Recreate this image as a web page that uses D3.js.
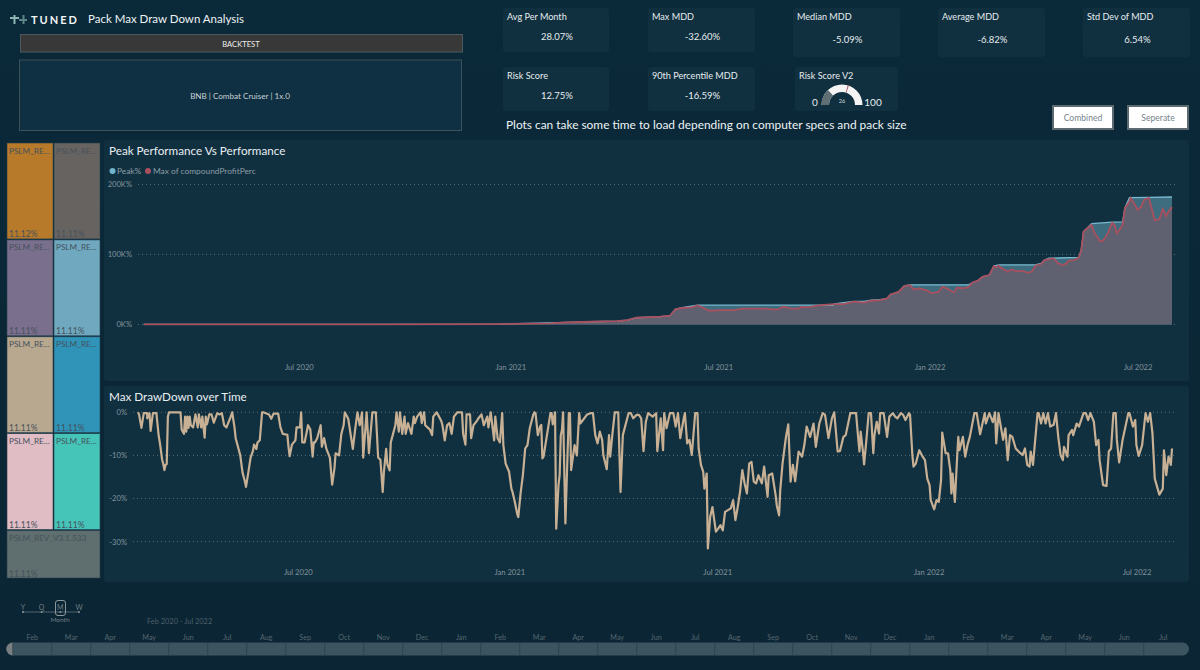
<!DOCTYPE html>
<html><head><meta charset="utf-8">
<script src="https://cdn.jsdelivr.net/npm/d3@7"></script>
<style>
html,body{margin:0;padding:0;background:#0b2737;overflow:hidden}
svg{display:block}
text{font-family:Lato,"Open Sans","Noto Sans",sans-serif}
</style></head><body>
<svg id="c" width="1200" height="670"></svg>
<script>
// ---------- DATA ----------
const startDay = new Date(2020, 1, 12);
const ddDays = [0,1,3,5,8,8,10,11,13,16,18,19,21,22,23,24,25,26,27,37,38,40,41,42,43,44,45,46,48,50,52,53,55,56,58,59,60,62,64,66,69,71,73,75,77,80,82,84,85,87,89,91,93,94,96,98,100,101,103,104,106,108,109,114,116,118,122,124,126,130,131,132,134,137,138,141,142,143,145,148,150,152,153,154,156,159,160,162,164,167,169,171,172,175,177,179,180,183,185,187,189,191,193,195,196,199,201,204,207,209,211,213,214,216,217,219,220,222,224,225,227,228,230,232,233,235,238,240,241,243,246,247,249,250,252,254,256,257,260,262,264,265,267,269,271,273,275,278,282,283,285,286,289,290,292,295,296,299,301,304,305,307,310,311,313,315,317,318,320,323,325,326,328,330,331,333,335,337,339,341,344,345,346,348,350,351,352,353,359,360,361,363,364,366,367,368,369,370,372,375,376,377,380,382,384,385,391,394,396,398,400,402,404,405,408,410,411,413,415,418,420,422,427,429,431,434,436,438,440,442,444,448,451,452,455,457,458,460,463,466,468,470,472,475,476,478,480,482,485,487,488,490,492,493,495,496,498,500,503,505,507,509,511,516,518,520,522,524,526,528,530,532,534,536,538,540,543,545,548,549,552,555,556,558,559,561,564,566,568,570,572,575,578,580,582,585,588,590,593,596,598,601,604,606,609,611,614,616,620,624,625,627,628,629,631,632,634,636,638,640,641,643,645,646,649,652,654,657,659,661,664,666,668,671,672,674,675,677,680,683,685,687,689,690,693,695,697,699,700,703,705,707,708,709,711,713,714,715,718,720,722,724,728,730,733,737,738,741,744,746,747,749,751,753,755,757,759,761,764,768,770,772,774,776,777,779,783,784,786,788,790,792,794,797,799,801,803,805,806,809,810,813,814,817,819,823,825,827,829,832,834,836,837,840,843,845,847,849,851,852,854,857,862,863,866,868,869,871,874,876,877,879,881,883,885,889,892,893,895,897,899,900];
const ddValues = [0,-0.6,-3.6,-0.2,-0.2,-1.4,-0.2,-4.3,-0.2,-0.2,-5.4,-7,-11,-12,-13.4,-12.2,-12,-1,0,0,-4,-5,-1,-4.5,-1,-3.6,-1,-3,-3.5,-0.5,-3.5,-0.5,-3.5,-1,-5.9,-1,-2.8,-0.5,-0.5,-2.4,-0.2,-0.5,-0.2,-3,-3.5,-1.5,0,-3.5,-6,-8,-10,-14,-16,-17.3,-14,-10.5,-9,-7.5,-8.5,-7,-6.5,0,0,-0.5,-1.5,-0.3,-0.3,-3.5,-5,-5.2,-8,-10.2,-7.5,-6.5,-3.5,-3.5,0,-7,-7,-3,-4,-10.3,-7,-7,-6,-3,-8,-6,-8.5,-10.5,-16.8,-13,-9.5,-10,-5,-3,0,-1.5,-5,-8.5,-4,0,-3,0,-10.5,0,-9.5,0,0,-10.5,-11,-18.5,-14,-8.5,-12,-13.5,-7,-5,-3,0,-4.5,0,-5,-1,-5,-2.5,-5,-1,-2.5,-1,0,-2.5,0,-3,-3.5,-4,-5.3,-1,0,-1,-2,-3,-6.5,-3,-2.5,-5,-1,0,0,-5,-7.5,-0.5,-0.5,-6,-3,-2,-1.5,-0.5,-3,-1,-3.5,0,-6.5,-1,-6,-7,-0.2,-7.6,-11.9,-13.8,-17.7,-18.5,-20.8,-23.5,-24.3,-18.8,-14.6,-8.4,-7.6,-3.7,-0.6,0,-0.2,-5.3,-3.3,-2.9,-10.7,-10.3,-0.2,-0.2,-2.8,0,-27,-16.9,-14.6,-5.3,-4.1,0,-25.8,-0.2,-0.2,-13.4,-7.6,-10,-0.2,-2.6,-0.5,-0.2,-0.2,-5.3,-7.2,-4.5,-6.4,-9.9,-13.2,-5.3,-10.3,-4.9,0,0,-18.5,-5.3,-0.2,-0.2,-1.4,-0.6,-0.6,-1.4,-9,-2.2,-0.2,-1,-0.2,-9,-1.4,-8.8,-0.2,-3.7,-0.2,-0.2,-3.3,-0.2,-6,-1.4,-0.2,-7.2,-6.4,-9.9,-0.2,-0.2,-8.4,-12.2,-13.8,-17.7,-14.2,-31.6,-24.3,-22,-27.7,-27,-26.2,-27.4,-23.1,-22.3,-20.4,-25,-22,-18.5,-13.4,-16.5,-18.8,-11.9,-11.5,-16.1,-16.5,-14.6,-16.5,-12.6,-19.6,-14.6,-14.2,-19.2,-21.6,-23.9,-18.1,-11.9,-5.7,-2.8,-16.1,-12.2,-16,-9.1,-10.3,-7.6,-3.3,-5.7,-2.6,-8,-2.6,-0.2,-0.6,-6,-1.4,0,-9.1,-9,-5.7,-5.3,-0.2,-0.2,-0.2,-6.4,-9.1,-4.5,-9.1,-12.1,-6.4,-0.2,-0.2,-9.5,-5.3,-2.2,-4.9,-0.2,-0.2,-5.7,-1,-0.2,-1,-1.4,-0.2,-0.6,-1.8,-0.2,-0.6,-9.9,-12.6,-11.9,-8.8,-10.3,-11.1,-15.4,-16.9,-20.4,-22.5,-20.4,-20.8,-15.7,-4.7,-9.5,-9.5,-13.4,-18.8,-14.2,-20.8,-10.3,-5.7,-8.8,-5.7,-10.3,-7.6,-5.7,-0.2,-0.2,-5.1,-0.2,-2.6,-0.2,-2.3,0,-7.2,-0.2,-3.3,-6.4,-3.7,-11.1,-5.3,-5.7,-8.4,-9.5,-9.9,-8.4,-12.2,-12.6,-9.1,-12.2,-0.2,-0.2,-2.6,-0.2,-2.6,-0.2,-3.3,-2.9,-0.2,-5.7,-9.9,-11.1,-8,-10.3,-5.3,-4.1,-5.3,-2.6,-3.3,-0.2,-0.2,-1.8,-0.2,-2.2,-7.6,-6.4,-11.1,-16.9,-17.1,-9.1,-8.4,-0.2,-0.2,-6.4,-11.6,-6.4,-0.2,-0.2,-3.3,-1.8,-7.6,-10.1,-7.6,-2.6,-0.2,-2.2,-0.2,-4.9,-15.4,-19.1,-17.7,-8.8,-14.6,-10.3,-12.2,-8.4,-7.6];

const profitDays = [5,200,315,359,373,394,417,426,434,455,463,468,476,482,487,492,497,507,519,526,545,556,562,568,574,577,585,594,606,614,623,632,638,646,652,655,662,667,672,675,680,686,691,697,700,704,710,713,719,723,726,731,735,741,745,747,749,752,757,760,765,771,774,778,781,786,789,793,797,801,805,808,810,815,819,821,823,826,830,832,837,840,844,848,850,852,857,859,863,864,867,870,873,876,880,883,885,889,892,895,897,900];
const profitValues = [0,0.1,0.5,1.4,2.9,3.8,4.8,6.2,9.5,11,12.4,21.9,23.8,24.3,27.1,23.8,19.5,20.5,20.5,22.4,22.4,21,25.3,22.9,22.4,24.5,25,27.6,29,29,32.4,31,33.8,34.8,37.1,42.8,46.5,54.7,56.1,50,51.4,49,44.3,46.7,53.8,51.4,45.7,52.4,51.4,53.8,59.5,62.4,68,70.5,83.3,81.4,83.8,80,75.2,78.5,76.2,76.2,73.8,75.2,83.8,86.2,91.9,93.3,94.2,87.1,84.8,87.1,91,91.9,95.7,106.2,132.4,137.1,141.9,132.4,119.5,119.5,130,145.2,141.9,130,141.9,166.2,175.7,180.5,173.3,163.8,167.6,178.9,180.5,161.4,148.6,150.5,164.8,155.2,161.4,167.6];

const peakDays = [5,315,373,394,417,426,434,455,463,468,476,487,605,606,623,632,638,646,652,655,662,667,672,723,726,731,735,741,745,749,781,786,789,793,819,821,823,826,830,848,857,859,863,880,900];
const peakValues = [0,0.5,3,3.8,4.8,6.2,9.5,11,12.4,22,24.8,27.5,27.5,29.5,33,33,34.5,35.5,37.1,42.8,46.5,55,56.5,56.5,59.5,62.4,68,70.5,83.3,85,85,87,92,94.5,95.7,106.2,132.4,137.1,144,146,146.5,166.2,181,181.5,182];

const xTickDates = [new Date(2020,6,1),new Date(2021,0,1),new Date(2021,6,1),new Date(2022,0,1),new Date(2022,6,1)];
const perfTicks = [0,100,200];
const ddTicks = [0,-10,-20,-30];

const cardLabels = ["Avg Per Month","Max MDD","Median MDD","Average MDD","Std Dev of MDD","Risk Score","90th Percentile MDD"];
const cardValues = ["28.07%","-32.60%","-5.09%","-6.82%","6.54%","12.75%","-16.59%"];

const treeNames = ["PSLM_RE...","PSLM_RE...","PSLM_RE...","PSLM_RE...","PSLM_RE...","PSLM_RE...","PSLM_RE...","PSLM_RE...","PSLM_REV_V3.1.533"];
const treeShares = [11.12,11.11,11.11,11.11,11.11,11.11,11.11,11.11,11.11];
const treeColors = ["#b67a2a","#666360","#7b6f8e","#6fa8bf","#b8a88f","#2f94b8","#e0bcc4","#45c4b8","#5f6e6e"];

const gaugeValue = 26, gaugeMax = 100, gaugeTarget = 60;
const monthNames = ["Feb","Mar","Apr","May","Jun","Jul","Aug","Sep","Oct","Nov","Dec","Jan","Feb","Mar","Apr","May","Jun","Jul","Aug","Sep","Oct","Nov","Dec","Jan","Feb","Mar","Apr","May","Jun","Jul"];
const granularity = ["Y","Q","M","W"];

// ---------- LAYOUT ----------
const svg = d3.select("#c");
const PANEL = "#103040", AXIS = "#82929b", GRID = "#5f7480";
const defs = svg.append("defs");
const grad = defs.append("linearGradient").attr("id","bg").attr("x1",0).attr("y1",0).attr("x2",0).attr("y2",1);
grad.append("stop").attr("offset",0).attr("stop-color","#0a2939");
grad.append("stop").attr("offset",1).attr("stop-color","#0b2534");
svg.append("rect").attr("width",1200).attr("height",670).attr("fill","url(#bg)");

function txt(x,y,s,size,fill,anchor,extra){
  const t = svg.append("text").attr("x",x).attr("y",y).attr("font-size",size).attr("fill",fill)
    .attr("text-anchor",anchor||"start").attr("dominant-baseline","central").text(s);
  if(extra) extra(t);
  return t;
}
function box(x,y,w,h,fill,r,stroke,sw){
  return svg.append("rect").attr("x",x).attr("y",y).attr("width",w).attr("height",h).attr("fill",fill)
    .attr("rx",r||0).attr("stroke",stroke||"none").attr("stroke-width",sw||0);
}

// header
const lg = svg.append("g").attr("fill","#8fb5b3");
lg.append("rect").attr("x",13.5).attr("y",15).attr("width",2).attr("height",9);
lg.append("rect").attr("x",10).attr("y",17).attr("width",9).attr("height",2);
lg.append("rect").attr("x",22.5).attr("y",15).attr("width",2).attr("height",9).attr("fill","#5d8587");
lg.append("rect").attr("x",19).attr("y",19).attr("width",8).attr("height",2).attr("fill","#5d8587");
txt(31,19,"TUNED",11,"#f2f5f5","start",t=>t.attr("font-weight",700).attr("letter-spacing",2));
txt(88,18.5,"Pack Max Draw Down Analysis",11.5,"#eef3f4");
box(20.5,34.5,442,17.5,"#383838",0,"#4c5a5f",1);
txt(241,44,"BACKTEST",7.6,"#eeeeee","middle");
box(19.5,60,442,70.5,"#0f3042",0,"#3c5158",1);
txt(240,96,"BNB | Combat Cruiser | 1x.0",8.1,"#c8d2d6","middle");

// KPI cards
const cardBoxes = [[503,8,106,44],[648,8,107,44],[793,8,107,49],[938,8,107,49],[1083,8,107,49],[503,67,106,44],[648,67,107,44]];
const valueY = [36,36,39,39,39,95,95];
cardLabels.forEach((l,i)=>{
  const b = cardBoxes[i];
  box(b[0],b[1],b[2],b[3],"#103040",3);
  txt(b[0]+4,b[1]+8.5,l,9.1,"#e6ecee");
  txt(b[0]+b[2]/2+1,valueY[i],cardValues[i],9.5,"#e6ecee","middle");
});
// gauge
box(795,67,103,44,"#103040",3);
txt(799,75,"Risk Score V2",9.1,"#e6ecee");
const gaugeG = svg.append("g").attr("transform","translate(842,105)");
const ang = d3.scaleLinear().domain([0,gaugeMax]).range([-Math.PI/2,Math.PI/2]);
const arc = d3.arc().innerRadius(13).outerRadius(20.5);
gaugeG.append("path").attr("d",arc({startAngle:ang(0),endAngle:ang(gaugeMax)})).attr("fill","#f4f4f4");
gaugeG.append("path").attr("d",arc({startAngle:ang(0),endAngle:ang(gaugeValue)})).attr("fill","#5e6e73");
gaugeG.append("path").attr("d",arc({startAngle:ang(gaugeTarget)-0.025,endAngle:ang(gaugeTarget)+0.025})).attr("fill","#a9505f");
txt(815,101.5,"0",10,"#e6ecee","middle");
txt(873,101.5,"100",10,"#e6ecee","middle");
txt(842,101,String(gaugeValue),5.5,"#d0d8da","middle");

txt(506,124.5,"Plots can take some time to load depending on computer specs and pack size",11.9,"#eef3f4");

// buttons
[["Combined",1052],["Seperate",1127]].forEach(([s,x])=>{
  box(x+1,106,60,23,"#ffffff",0,"#5d6a70",2);
  txt(x+31,117.5,s,8.6,"#76858c","middle");
});

// treemap
const total = d3.sum(treeShares);
const treeRows = d3.range(0,treeShares.length,2).map(i=>treeShares.slice(i,i+2).map((v,j)=>({v,i:i+j})));
const ty = d3.scaleLinear().domain([0,total]).range([142.5,578.5]);
const tx = d3.scaleLinear().domain([0,1]).range([6.5,100.5]);
let cum = 0;
treeRows.forEach(row=>{
  const rs = d3.sum(row,d=>d.v);
  let c2 = 0;
  row.forEach(d=>{
    const x0=tx(c2/rs), x1=tx((c2+d.v)/rs), y0=ty(cum), y1=ty(cum+rs);
    svg.append("rect").attr("x",x0+.5).attr("y",y0+.5).attr("width",x1-x0-1).attr("height",y1-y0-1).attr("fill",treeColors[d.i]).attr("stroke","#25414f").attr("stroke-width",.6);
    txt(x0+2.5,y0+8,treeNames[d.i],8.2,"#46525c");
    txt(x0+2.5,y1-5,d3.format(".2f")(d.v)+"%",8.5,"#46525c");
    c2+=d.v;
  });
  cum+=rs;
});

// panels
box(104,140,1085,241,PANEL,3);
box(104,386,1085,196,PANEL,3);
txt(109,149.5,"Peak Performance Vs Performance",11.7,"#e8eef0");
txt(109,395.5,"Max DrawDown over Time",11.7,"#e8eef0");
svg.append("circle").attr("cx",112.5).attr("cy",171).attr("r",3).attr("fill","#70b3ca");
txt(117,170.5,"Peak%",8.35,"#8c9ca4");
svg.append("circle").attr("cx",148).attr("cy",171).attr("r",3).attr("fill","#a9505f");
txt(153,170.5,"Max of compoundProfitPerc",8.35,"#8c9ca4");

const dayToDate = d=>d3.timeDay.offset(startDay,d);
const x = d3.scaleTime().domain([dayToDate(0),dayToDate(900)]).range([138,1172]);
const yP = d3.scaleLinear().domain([0,200]).range([324.4,184.4]);
const yD = d3.scaleLinear().domain([-30,0]).range([541.6,412.3]);

function grid(ticks,scale,x0,x1){
  svg.append("g").selectAll("line").data(ticks).join("line")
    .attr("x1",x0).attr("x2",x1).attr("y1",d=>scale(d)).attr("y2",d=>scale(d))
    .attr("stroke",GRID).attr("stroke-width",.9).attr("stroke-dasharray","1 3");
}
function axes(ticks,scale,fmt,xLabel,axisY,xShift){
  const gy = svg.append("g").attr("transform",`translate(${xLabel},0)`)
    .call(d3.axisLeft(scale).tickValues(ticks).tickFormat(fmt).tickSize(0).tickPadding(0));
  gy.select(".domain").remove();
  gy.selectAll("text").attr("font-size",7.6).attr("fill",AXIS).attr("font-family","Lato");
  const gx = svg.append("g").attr("transform",`translate(${xShift},${axisY})`)
    .call(d3.axisBottom(x).tickValues(xTickDates).tickFormat(d3.timeFormat("%b %Y")).tickSize(0).tickPadding(0));
  gx.select(".domain").remove();
  gx.selectAll("text").attr("font-size",7.6).attr("fill",AXIS).attr("font-family","Lato");
}
grid(perfTicks,yP,138,1175);
grid(ddTicks,yD,133,1177);
axes(perfTicks,yP,d=>d+"K%",132,365,0);
axes(ddTicks,yD,d=>d+"%",127,569.5,-1);

// performance chart
const peak = peakDays.map((d,i)=>({d:dayToDate(d),v:peakValues[i]}));
const prof = profitDays.map((d,i)=>({d:dayToDate(d),v:profitValues[i]}));
const area = d3.area().x(d=>x(d.d)).y0(yP(0)).y1(d=>yP(d.v));
const line = d3.line().x(d=>x(d.d)).y(d=>yP(d.v));
svg.append("path").datum(peak).attr("d",area).attr("fill","#3e6d80");
svg.append("path").datum(prof).attr("d",area).attr("fill","#5f6070");
svg.append("path").datum(peak).attr("d",line).attr("fill","none").attr("stroke","#78bad0").attr("stroke-width",1.3);
svg.append("path").datum(prof).attr("d",line).attr("fill","none").attr("stroke","#a9505f").attr("stroke-width",1.8);

// drawdown chart
const dd = ddDays.map((d,i)=>({d:dayToDate(d),v:ddValues[i]}));
svg.append("path").datum(dd).attr("d",d3.line().x(d=>x(d.d)).y(d=>yD(d.v)))
  .attr("fill","none").attr("stroke","#c8b094").attr("stroke-width",2.2).attr("stroke-linejoin","round");

// granularity slicer
const gx = d3.scalePoint().domain(granularity).range([23,79]);
svg.append("line").attr("x1",22).attr("x2",79).attr("y1",612).attr("y2",612).attr("stroke","#66777f").attr("stroke-width",.8);
granularity.forEach(g=>{
  txt(gx(g),606.5,g,7,"#6f7e85","middle");
  svg.append("circle").attr("cx",gx(g)).attr("cy",612).attr("r",1).attr("fill","#8a989e");
});
box(55.5,600.5,10,15,"none",2.5,"#8a989e",1);
txt(60,619.5,"Month",6.5,"#6f7e85","middle");
txt(147,621,"Feb 2020 - Jul 2022",7.4,"#4d5f68");

// timeline
const mIdx = d3.range(monthNames.length);
const mx = d3.scaleBand().domain(mIdx).range([12.7,1182.7]);
box(6,642.5,1183,13,"#3c5360",6.5);
svg.append("path").attr("d","M13 642.5 A6.5 6.5 0 0 0 13 655.5 Z").attr("fill","#7a8082");
svg.append("g").selectAll("line").data(mIdx).join("line")
  .attr("x1",d=>mx(d)).attr("x2",d=>mx(d)).attr("y1",642.5).attr("y2",655.5).attr("stroke","#2a414e").attr("stroke-width",.8);
svg.append("g").selectAll("text").data(mIdx).join("text")
  .attr("x",d=>mx(d)+mx.bandwidth()/2).attr("y",637).attr("text-anchor","middle").attr("dominant-baseline","central")
  .attr("font-size",7.2).attr("fill","#55666f").text(d=>monthNames[d]);
</script>
</body></html>
